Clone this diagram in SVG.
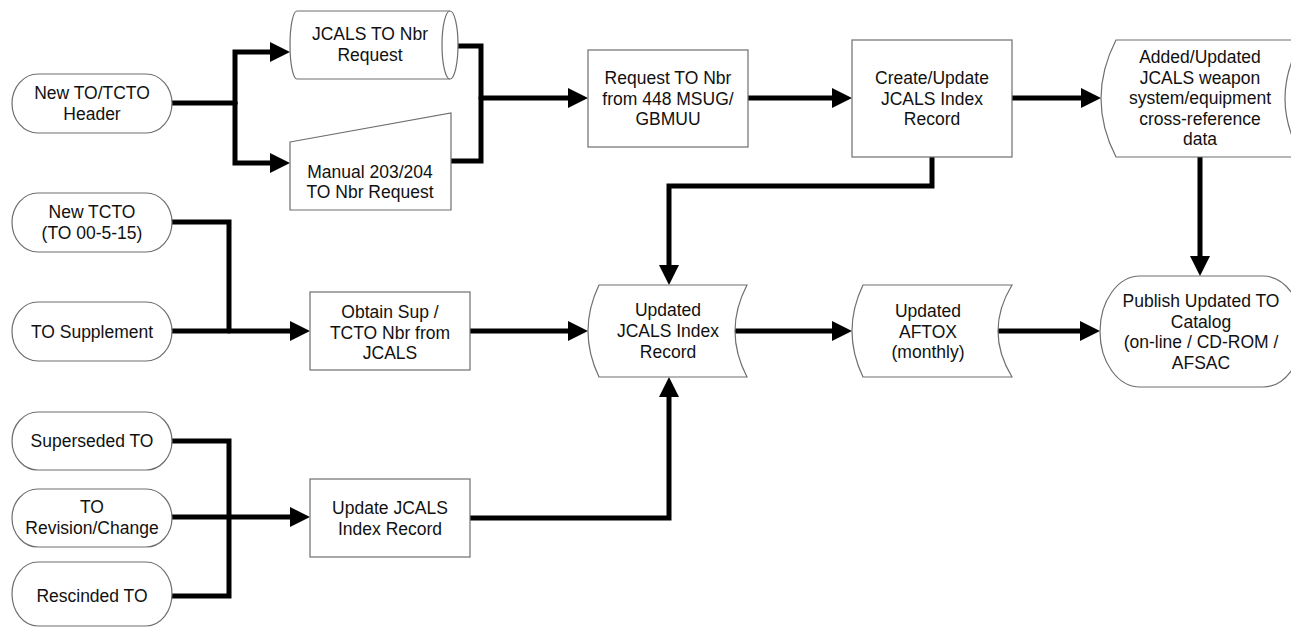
<svg xmlns="http://www.w3.org/2000/svg" width="1291" height="628" viewBox="0 0 1291 628">
<style>
.s{fill:#fff;stroke:#6e6e6e;stroke-width:1.2}
.t{font-family:"Liberation Sans",Arial,sans-serif;font-size:17.5px;fill:#111;text-anchor:middle}
.c{fill:none;stroke:#000;stroke-width:5;stroke-linejoin:miter;stroke-linecap:round}
.a{marker-end:url(#ah)}
</style>
<defs>
<marker id="ah" markerUnits="userSpaceOnUse" markerWidth="20" markerHeight="20" refX="6" refY="10" orient="auto">
<path d="M0,0 L20,10 L0,20 Z" fill="#000"/>
</marker>
</defs>
<rect width="1291" height="628" fill="#fff"/>
<g id="connectors">
<path class="c" d="M172,103 H235"/>
<path class="c a" d="M235,103 V52 H276"/>
<path class="c a" d="M235,103 V163 H276"/>
<path class="c" d="M458,46 H481 V161 H451"/>
<path class="c a" d="M481,98 H574"/>
<path class="c a" d="M748,98 H838"/>
<path class="c a" d="M1012,98 H1087"/>
<path class="c a" d="M1200,157 V262"/>
<path class="c a" d="M932,157 V186 H669 V271"/>
<path class="c a" d="M735,331 H838"/>
<path class="c a" d="M998,331 H1086"/>
<path class="c" d="M172,222 H229 V331"/>
<path class="c a" d="M172,331 H296"/>
<path class="c a" d="M470,331 H574"/>
<path class="c" d="M172,441 H229 V596 H172"/>
<path class="c a" d="M172,517 H296"/>
<path class="c a" d="M470,518 H669 V391"/>
</g>
<g id="n-header">
<rect class="s" x="12" y="74" width="160" height="59" rx="26" ry="29.5"/>
<text class="t" x="92" y="99">New TO/TCTO</text>
<text class="t" x="92" y="119.5">Header</text>
</g>
<g id="n-jcals-req">
<path class="s" d="M297,11 L450,11 A8,34 0 0 1 450,79 L297,79 A7,34 0 0 1 297,11 Z"/>
<path class="s" d="M450,11 A8,34 0 0 0 450,79" fill="none"/>
<text class="t" x="370" y="40">JCALS TO Nbr</text>
<text class="t" x="370" y="61">Request</text>
</g>
<g id="n-manual">
<path class="s" d="M290,142 L451,113 L451,210 L290,210 Z"/>
<text class="t" x="370" y="178">Manual 203/204</text>
<text class="t" x="370" y="198">TO Nbr Request</text>
</g>
<g id="n-request">
<rect class="s" x="588" y="50" width="160" height="97"/>
<text class="t" x="668" y="84">Request TO Nbr</text>
<text class="t" x="668" y="104.5">from 448 MSUG/</text>
<text class="t" x="668" y="125">GBMUU</text>
</g>
<g id="n-create">
<rect class="s" x="852" y="40" width="160" height="117"/>
<text class="t" x="932" y="84">Create/Update</text>
<text class="t" x="932" y="104.5">JCALS Index</text>
<text class="t" x="932" y="125">Record</text>
</g>
<g id="n-added">
<path class="s" d="M1116,40 L1302,40 Q1268,98.5 1302,157 L1116,157 Q1086,98.5 1116,40 Z"/>
<text class="t" x="1200" y="63">Added/Updated</text>
<text class="t" x="1200" y="83.5">JCALS weapon</text>
<text class="t" x="1200" y="104">system/equipment</text>
<text class="t" x="1200" y="124.5">cross-reference</text>
<text class="t" x="1200" y="145">data</text>
</g>
<g id="n-newtcto">
<rect class="s" x="12" y="193" width="160" height="59" rx="26" ry="29.5"/>
<text class="t" x="92" y="218">New TCTO</text>
<text class="t" x="92" y="239">(TO 00-5-15)</text>
</g>
<g id="n-supplement">
<rect class="s" x="12" y="302" width="160" height="59" rx="26" ry="29.5"/>
<text class="t" x="92" y="337.5">TO Supplement</text>
</g>
<g id="n-obtain">
<rect class="s" x="310" y="292" width="160" height="78"/>
<text class="t" x="390" y="318">Obtain Sup /</text>
<text class="t" x="390" y="338.5">TCTO Nbr from</text>
<text class="t" x="390" y="359">JCALS</text>
</g>
<g id="n-updated-jcals">
<path class="s" d="M599,285 L747,285 Q723,331 747,377 L599,377 Q577,331 599,285 Z"/>
<text class="t" x="668" y="316">Updated</text>
<text class="t" x="668" y="337">JCALS Index</text>
<text class="t" x="668" y="358">Record</text>
</g>
<g id="n-aftox">
<path class="s" d="M863,285 L1012,285 Q984,331 1012,377 L863,377 Q841,331 863,285 Z"/>
<text class="t" x="928" y="317">Updated</text>
<text class="t" x="928" y="337.5">AFTOX</text>
<text class="t" x="928" y="358">(monthly)</text>
</g>
<g id="n-publish">
<rect class="s" x="1100" y="276" width="203" height="111" rx="40" ry="55.5"/>
<text class="t" x="1201" y="307">Publish Updated TO</text>
<text class="t" x="1201" y="327.5">Catalog</text>
<text class="t" x="1201" y="348">(on-line / CD-ROM /</text>
<text class="t" x="1201" y="368.5">AFSAC</text>
</g>
<g id="n-superseded">
<rect class="s" x="12" y="412" width="160" height="58" rx="26" ry="29"/>
<text class="t" x="92" y="447">Superseded TO</text>
</g>
<g id="n-revision">
<rect class="s" x="12" y="489" width="160" height="58" rx="26" ry="29"/>
<text class="t" x="92" y="513">TO</text>
<text class="t" x="92" y="534">Revision/Change</text>
</g>
<g id="n-rescinded">
<rect class="s" x="12" y="562" width="160" height="64" rx="26" ry="32"/>
<text class="t" x="92" y="602">Rescinded TO</text>
</g>
<g id="n-update-jcals">
<rect class="s" x="310" y="479" width="160" height="78"/>
<text class="t" x="390" y="514">Update JCALS</text>
<text class="t" x="390" y="534.5">Index Record</text>
</g>
</svg>
